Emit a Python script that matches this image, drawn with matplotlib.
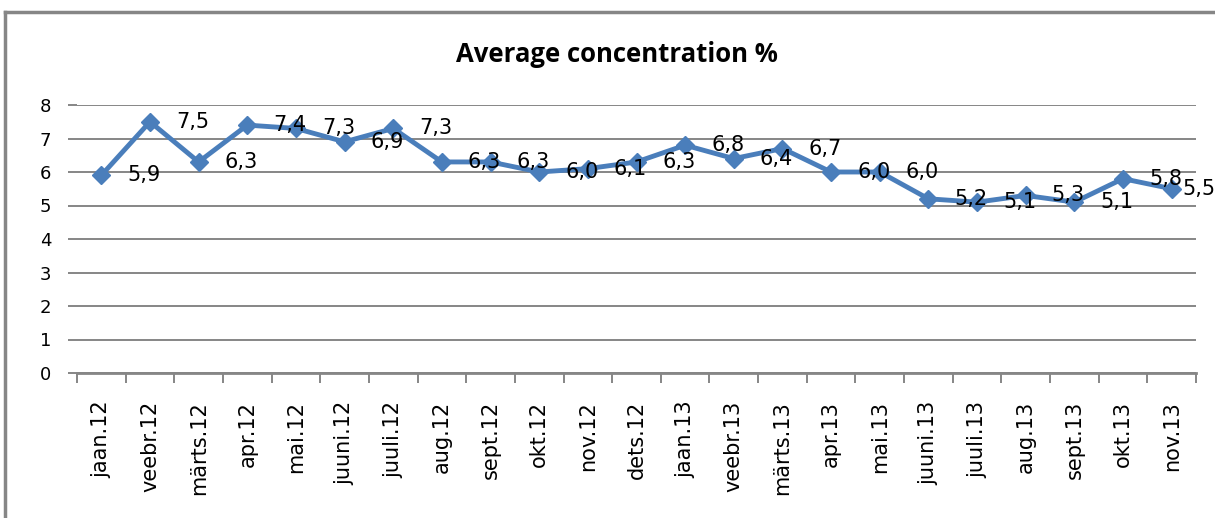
import matplotlib.pyplot as plt
from matplotlib.lines import Line2D
from matplotlib.ticker import FixedLocator

# monthly averages, Jan 2012 - Nov 2013
months = [
    "jaan.12", "veebr.12", "märts.12", "apr.12", "mai.12", "juuni.12",
    "juuli.12", "aug.12", "sept.12", "okt.12", "nov.12", "dets.12",
    "jaan.13", "veebr.13", "märts.13", "apr.13", "mai.13", "juuni.13",
    "juuli.13", "aug.13", "sept.13", "okt.13", "nov.13",
]
concentration = [
    5.9, 7.5, 6.3, 7.4, 7.3, 6.9, 7.3, 6.3, 6.3, 6.0, 6.1, 6.3,
    6.8, 6.4, 6.7, 6.0, 6.0, 5.2, 5.1, 5.3, 5.1, 5.8, 5.5,
]
y_ticks = [0, 1, 2, 3, 4, 5, 6, 7, 8]

grid_color = "#868686"
line_color = "#4A7EBB"

fig = plt.figure(figsize=(12.15, 5.18), dpi=100)
ax = fig.add_axes([77 / 1215, 1 - 373 / 518, (1196 - 77) / 1215, (373 - 105) / 518])

x = list(range(len(months)))
ax.plot(x, concentration, color=line_color, linewidth=3.5,
        marker="D", markersize=9, markerfacecolor=line_color,
        markeredgecolor=line_color, zorder=3)

# data labels to the right of each point, comma as decimal sign;
# the last one is pulled in so it stays inside the frame
for xi, v in zip(x, concentration):
    dx = 11 if xi == x[-1] else 26
    ax.annotate(f"{v:.1f}".replace(".", ","), (xi, v),
                xytext=(dx, 0), textcoords="offset pixels",
                ha="left", va="center", fontsize=15,
                color="black", zorder=4, annotation_clip=False)

ax.set_xlim(-0.5, len(months) - 0.5)
ax.set_ylim(0, 8)

ax.set_yticks(y_ticks)
ax.set_yticklabels([str(t) for t in y_ticks], fontsize=13)
ax.yaxis.grid(True, color=grid_color, linewidth=1.4)
ax.set_axisbelow(True)
ax.tick_params(axis="y", length=6.5, width=1.4, color=grid_color, pad=12)

ax.set_xticks(x)
ax.set_xticklabels(months, rotation=90, fontsize=15, va="top", ha="center")
ax.tick_params(axis="x", which="major", length=0, pad=20)
ax.xaxis.set_minor_locator(FixedLocator([i - 0.5 for i in range(len(months) + 1)]))
ax.tick_params(axis="x", which="minor", length=7.5, width=1.4, color=grid_color)

for side in ["top", "right", "left"]:
    ax.spines[side].set_visible(False)
ax.spines["bottom"].set_color(grid_color)
ax.spines["bottom"].set_linewidth(2)

fig.text(617 / 1215, 1 - 55 / 518, "Average concentration %",
         ha="center", va="center", fontsize=18.5, fontweight="bold",
         family="Open Sans")

# chart frame
fig.add_artist(Line2D([5 / 1215, 5 / 1215], [0, 1 - 12 / 518],
                      color=grid_color, linewidth=2.5))
fig.add_artist(Line2D([5 / 1215, 1], [1 - 12 / 518, 1 - 12 / 518],
                      color=grid_color, linewidth=2.5))

fig.savefig("out.png", dpi=100)
